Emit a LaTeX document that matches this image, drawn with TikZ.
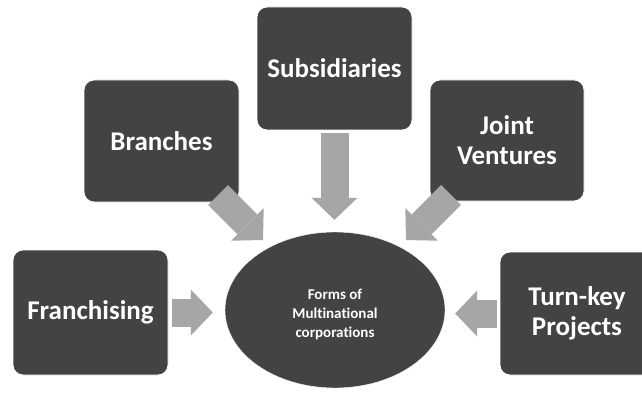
\documentclass[tikz,border=0pt]{standalone}
\usepackage{fontspec}
\setmainfont{Carlito}[Ligatures=NoCommon]
\usetikzlibrary{arrows.meta,shapes.geometric}
\definecolor{boxfill}{HTML}{434343}
\definecolor{arrowgray}{HTML}{A6A6A6}
\tikzset{
  formbox/.style={fill=boxfill, draw=white, line width=0.8pt, rounded corners=10pt,
    text=white, font=\fontsize{27}{30}\selectfont\bfseries, align=center, inner sep=0pt},
  centreell/.style={ellipse, fill=boxfill, draw=white, text=white, inner sep=0pt,
    minimum width=220pt, minimum height=156pt,
    font=\fontsize{15}{19}\selectfont\bfseries},
  blk/.style={draw=arrowgray, line width=28pt,
    -{Triangle[length=22pt,width=46pt,line width=0pt,fill=arrowgray]}}
}
\begin{document}
\begin{tikzpicture}[x=1pt,y=-1pt]
\useasboundingbox (0,0) rectangle (642,393);
\clip (0,0) rectangle (642,393);
\fill[white] (0,0) rectangle (642,393);
\node[formbox, minimum width=155pt, minimum height=125pt] (fr) at (90.5,312.5) {Franchising};
\node[formbox, minimum width=155pt, minimum height=122pt] (br) at (161.5,141) {Branches};
\node[formbox, minimum width=155pt, minimum height=123pt] (su) at (334.5,68.5) {Subsidiaries};
\node[formbox, minimum width=154pt, minimum height=121pt] (jv) at (507,140.5) {Joint\\Ventures};
\node[formbox, minimum width=154pt, minimum height=123pt] (tk) at (577,313.5) {Turn-key\\Projects};
\node[centreell] (ell) at (335,310) {\raisebox{-8.5pt}[0pt][0pt]{\setlength{\tabcolsep}{0pt}\begin{tabular}{c}Forms of\\Multinational\\corporations\end{tabular}}};
\coordinate (brT) at (218,195);
\coordinate (brH) at (263,240);
\coordinate (jvT) at (451,195);
\coordinate (jvH) at (406,240);
\draw[blk, shorten <=4pt, shorten >=12pt] (fr.east) -- (fr.east -| ell.west);
\draw[blk, shorten <=3pt, shorten >=10pt] (tk.west) -- (tk.west -| ell.east);
\draw[blk, shorten <=3pt, shorten >=12pt] (su.south) -- (su.south |- ell.north);
\draw[blk] (brT) -- (brH);
\draw[blk] (jvT) -- (jvH);
\end{tikzpicture}
\end{document}
